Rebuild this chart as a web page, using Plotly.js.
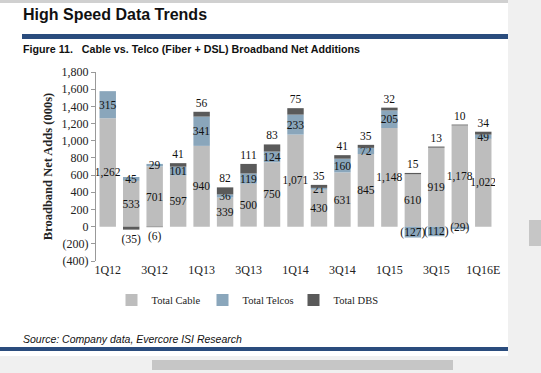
<!DOCTYPE html>
<html>
<head>
<meta charset="utf-8">
<script src="https://cdn.plot.ly/plotly-3.0.1.min.js"></script>
<style>
html,body{margin:0;padding:0;background:#fff;overflow:hidden;}
#chart{width:541px;height:373px;}
</style>
</head>
<body>
<div id="chart"></div>
<script>
// ---- data (000s) ----
var quarters = ["1Q12","2Q12","3Q12","4Q12","1Q13","2Q13","3Q13","4Q13","1Q14","2Q14","3Q14","4Q14","1Q15","2Q15","3Q15","4Q15","1Q16E"];
var totalCable = [1262, 533, 701, 597, 940, 339, 500, 750, 1071, 430, 631, 845, 1148, 610, 919, 1178, 1022];
var totalTelcos = [315, 45, 29, 101, 341, 36, 119, 124, 233, 21, 160, 72, 205, -127, -112, -29, 49];
var totalDBS = [null, -35, -6, 41, 56, 82, 111, 83, 75, 35, 41, 35, 32, 15, 13, 10, 34];
var yTickVals = [-400, -200, 0, 200, 400, 600, 800, 1000, 1200, 1400, 1600, 1800];

function fmt(v){
  if (v === null || v === undefined) return "";
  var s = Math.abs(v).toString().replace(/\B(?=(\d{3})+(?!\d))/g, ",");
  return v < 0 ? "(" + s + ")" : s;
}
var yTickText = yTickVals.map(fmt);

var serif = "Liberation Serif, Times New Roman, serif";
var sans = "Liberation Sans, Arial, sans-serif";

var traces = [
  {type:"bar", name:"Total Cable", x:quarters, y:totalCable, text:totalCable.map(fmt),
   textposition:"inside", insidetextanchor:"middle", constraintext:"none", textangle:0,
   textfont:{family:serif, size:11.5, color:"#111"}, marker:{color:"#BDBDBD"}, hoverinfo:"y"},
  {type:"bar", name:"Total Telcos", x:quarters, y:totalTelcos, text:totalTelcos.map(fmt),
   textposition:"inside", insidetextanchor:"middle", constraintext:"none", textangle:0,
   textfont:{family:serif, size:11.5, color:"#111"}, marker:{color:"#8AA6BB"}, hoverinfo:"y"},
  {type:"bar", name:"Total DBS", x:quarters, y:totalDBS, text:totalDBS.map(fmt),
   textposition:"outside", constraintext:"none", cliponaxis:false, textangle:0,
   textfont:{family:serif, size:11.5, color:"#111"}, marker:{color:"#5A5A5A"}, hoverinfo:"y"}
];

// pixel -> paper helpers (plot area: x 96..495, y 72..261)
var L=96, R=46, T=72, B=112, W=541, H=373;
var pw = W-L-R, ph = H-T-B;
function px(x){ return (x-L)/pw; }
function py(y){ return (H-B-y)/ph; }
var zeroPos = (0 - (-400)) / (1800 - (-400));

var layout = {
  width:W, height:H,
  margin:{l:L, r:R, t:T, b:B, pad:0},
  paper_bgcolor:"#fff", plot_bgcolor:"#fff",
  barmode:"relative", bargap:0.3,
  showlegend:true,
  legend:{orientation:"h", x:px(248), xanchor:"center", y:py(300), yanchor:"middle",
          font:{family:serif, size:10.5, color:"#222"}, itemwidth:30, tracegroupgap:0,
          entrywidth:46, entrywidthmode:"pixels"},
  xaxis:{type:"category", showline:false, ticks:"", dtick:2, showgrid:false, zeroline:false,
         tickfont:{family:serif, size:12, color:"#222"}, fixedrange:true},
  xaxis2:{type:"linear", overlaying:"x", anchor:"free", position:zeroPos, range:[-0.5,16.5],
          tickvals:[-0.5,0.5,1.5,2.5,3.5,4.5,5.5,6.5,7.5,8.5,9.5,10.5,11.5,12.5,13.5,14.5,15.5,16.5],
          showticklabels:false, ticks:"outside", ticklen:5, tickcolor:"#999", showline:true,
          linecolor:"#999", linewidth:1, showgrid:false, zeroline:false},
  yaxis:{range:[-400,1800], tickvals:yTickVals, ticktext:yTickText, showgrid:false, zeroline:false,
         showline:true, linecolor:"#999", ticks:"outside", ticklen:4, tickcolor:"#999",
         tickfont:{family:serif, size:12, color:"#222"},
         title:{text:"<b>Broadband Net Adds (000s)</b>", font:{family:serif, size:12.5, color:"#222"}, standoff:6}},
  shapes:[
    {type:"rect", xref:"paper", yref:"paper", x0:px(508), x1:px(541), y0:py(0), y1:py(373), fillcolor:"#F0F0F0", line:{width:0}, layer:"below"},
    {type:"rect", xref:"paper", yref:"paper", x0:px(529), x1:px(541), y0:py(220), y1:py(246), fillcolor:"#C6C6C6", line:{width:0}},
    {type:"rect", xref:"paper", yref:"paper", x0:px(0), x1:px(508), y0:py(0), y1:py(3), fillcolor:"#D0D0D0", line:{width:0}},
    {type:"rect", xref:"paper", yref:"paper", x0:px(22), x1:px(508), y0:py(34), y1:py(39), fillcolor:"#2A4C7D", line:{width:0}},
    {type:"rect", xref:"paper", yref:"paper", x0:px(0), x1:px(508), y0:py(347), y1:py(351), fillcolor:"#2A4C7D", line:{width:0}},
    {type:"rect", xref:"paper", yref:"paper", x0:px(0), x1:px(541), y0:py(356), y1:py(373), fillcolor:"#F0F0F0", line:{width:0}},
    {type:"rect", xref:"paper", yref:"paper", x0:px(152), x1:px(453), y0:py(360), y1:py(370), fillcolor:"#C6C6C6", line:{width:0}}
  ],
  annotations:[
    {xref:"paper", yref:"paper", x:px(21), y:py(15), xanchor:"left", yanchor:"middle", showarrow:false,
     text:"<b>High Speed Data Trends</b>", font:{family:sans, size:16, color:"#111"}},
    {xref:"paper", yref:"paper", x:px(21), y:py(49), xanchor:"left", yanchor:"middle", showarrow:false,
     text:"<b>Figure 11.   Cable vs. Telco (Fiber + DSL) Broadband Net Additions</b>", font:{family:sans, size:10.7, color:"#111"}},
    {xref:"paper", yref:"paper", x:px(21), y:py(339), xanchor:"left", yanchor:"middle", showarrow:false,
     text:"<i>Source: Company data, Evercore ISI Research</i>", font:{family:sans, size:10.5, color:"#111"}}
  ]
};

Plotly.newPlot("chart", traces, layout, {displayModeBar:false, staticPlot:true});
</script>
</body>
</html>
